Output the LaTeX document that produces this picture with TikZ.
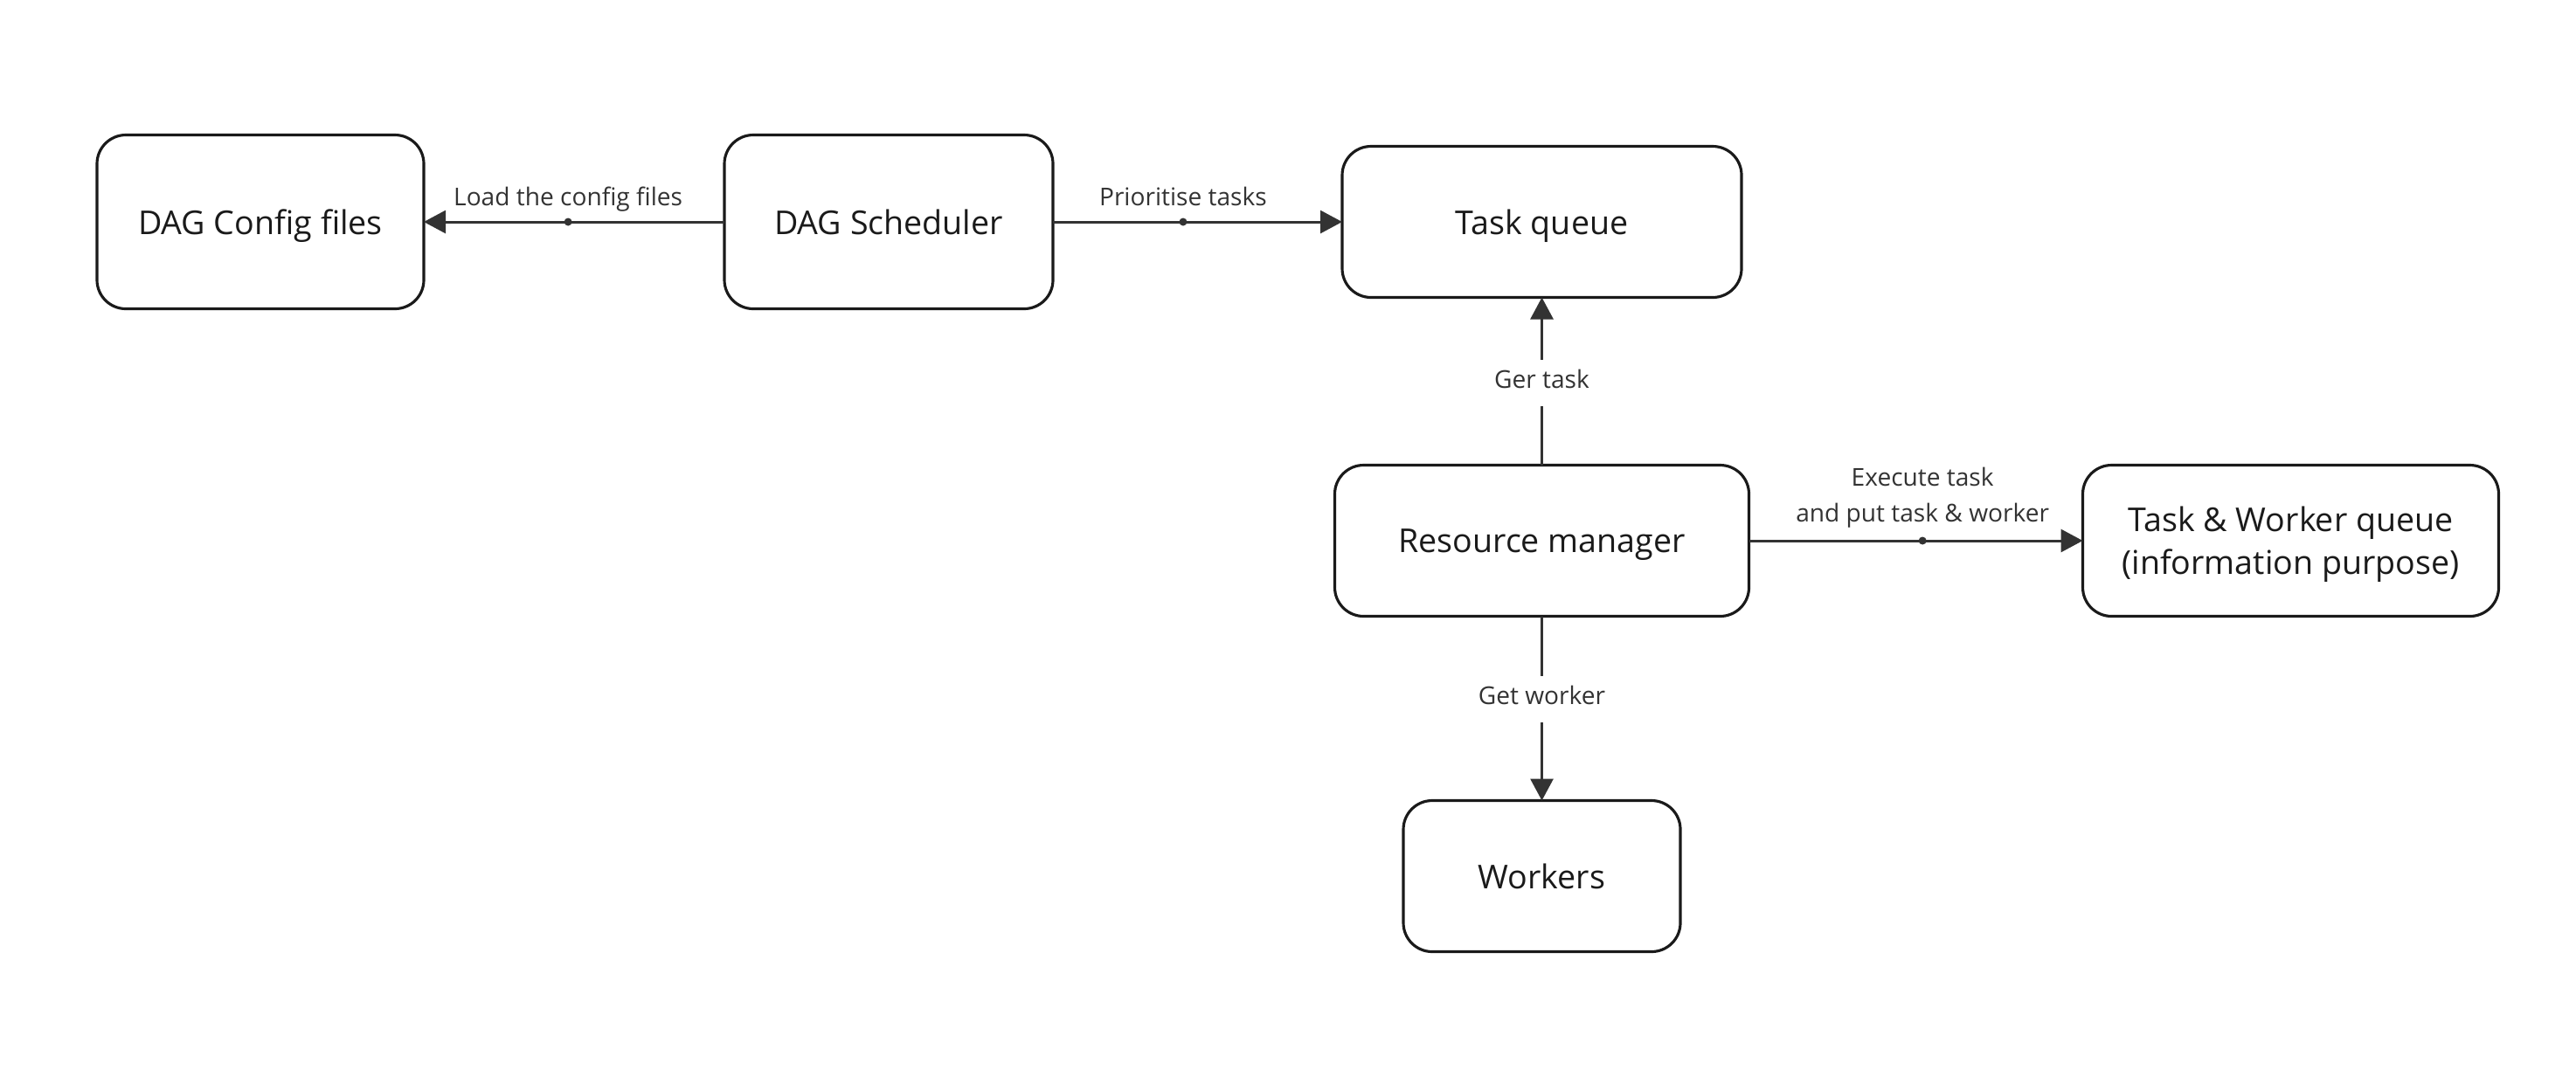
\documentclass[tikz,border=0pt]{standalone}
\usepackage{fontspec}
\setsansfont{Open Sans}
\usepackage{tikz}
\usetikzlibrary{arrows.meta,positioning}
\definecolor{ink}{HTML}{1A1A1A}
\definecolor{wire}{HTML}{333333}

\begin{document}
\begin{tikzpicture}[
  font=\sffamily,
  box/.style={draw=ink, line width=0.9pt, outer sep=0pt, rounded corners=3.3mm, fill=white, minimum height=1.73cm, text depth=0pt, align=center, text=ink, font=\sffamily\fontsize{10.7}{14}\selectfont},
  lbl/.style={text=wire, align=center, text depth=0.25em, font=\sffamily\fontsize{8}{11.4}\selectfont},
  dot/.style={circle, fill=wire, inner sep=0pt, minimum size=0.9mm},
  arrow/.style={-{Triangle[length=2.5mm,width=2.6mm]}, line width=0.85pt, draw=wire}
]
  \useasboundingbox (0,0) rectangle (29.48,-12.40);

  \node[box, minimum width=3.74cm, minimum height=1.99cm] (cfg) at (2.98,-2.54) {DAG Config files};
  \node[box, minimum width=3.76cm, minimum height=1.99cm, right=3.44cm of cfg] (sched) {DAG Scheduler};
  \node[box, minimum width=4.57cm, right=3.31cm of sched] (tq) {Task queue};

  \node[box, minimum width=4.74cm, below=1.92cm of tq] (rm) {Resource manager};
  \node[box, minimum width=4.76cm, right=3.82cm of rm] (twq) {Task \& Worker queue\\(information purpose)};
  \node[box, minimum width=3.17cm, below=2.11cm of rm] (wrk) {Workers};

  \draw[arrow] (sched) -- node[pos=0.52, dot] {} node[pos=0.52, lbl, above=-1pt] {Load the config files} (cfg);
  \draw[arrow] (sched) -- node[pos=0.45, dot] {} node[pos=0.45, lbl, above=-1pt] {Prioritise tasks} (tq);
  \draw[arrow] (rm) -- node[pos=0.49, lbl, fill=white] {Ger task} (tq);
  \draw[arrow] (rm) -- node[pos=0.45, lbl, fill=white] {Get worker} (wrk);
  \draw[arrow] (rm) -- node[pos=0.52, dot] {} node[pos=0.52, lbl, above=0pt] {Execute task\\and put task \& worker} (twq);
\end{tikzpicture}
\end{document}
